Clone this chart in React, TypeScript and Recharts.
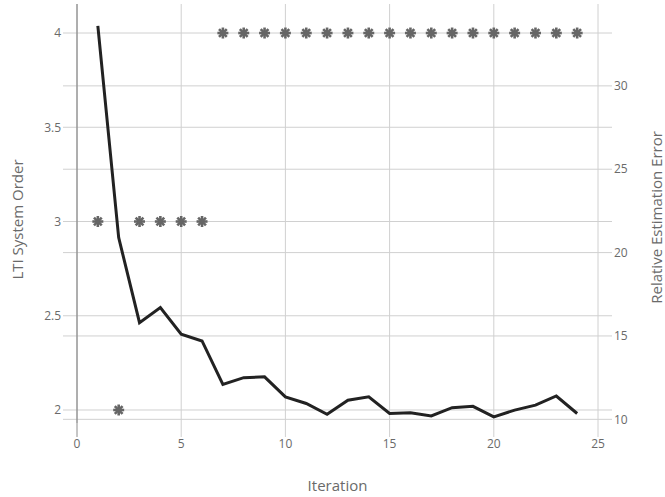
import {
  ComposedChart,
  Line,
  Scatter,
  XAxis,
  YAxis,
  CartesianGrid,
  ReferenceLine,
} from 'recharts'

const ITERATIONS = [1, 2, 3, 4, 5, 6, 7, 8, 9, 10, 11, 12, 13, 14, 15, 16, 17, 18, 19, 20, 21, 22, 23, 24]
const SYSTEM_ORDER = [3, 2, 3, 3, 3, 3, 4, 4, 4, 4, 4, 4, 4, 4, 4, 4, 4, 4, 4, 4, 4, 4, 4, 4]
const REL_ERROR = [
  33.6, 20.9, 15.8, 16.7, 15.1, 14.7, 12.1, 12.5, 12.55, 11.35, 10.95, 10.3,
  11.15, 11.35, 10.35, 10.4, 10.2, 10.7, 10.78, 10.15, 10.55, 10.85, 11.4, 10.35,
]

const X_TICKS = [0, 5, 10, 15, 20, 25]
const ORDER_TICKS = [2, 2.5, 3, 3.5, 4]
const ERROR_TICKS = [10, 15, 20, 25, 30]

const data = ITERATIONS.map((iter, i) => ({
  iter,
  order: SYSTEM_ORDER[i],
  error: REL_ERROR[i],
}))

const FONT = '"Open Sans", verdana, arial, sans-serif'
const GRID = '#d0d0d0'
const TEXT = '#6a6a6a'
const TITLE_SIZE = 15
// grid lines run 14px past the plot on both sides, like the tick marks
const GRID_X0 = -0.672
const GRID_X1 = 25.672

function Asterisk(props: any) {
  const { cx, cy } = props
  if (cx == null || cy == null) return null
  const r = 5.5
  const d = r * 0.7071
  return (
    <g stroke="#666" strokeWidth={2.6} strokeLinecap="butt">
      <line x1={cx - r} y1={cy} x2={cx + r} y2={cy} />
      <line x1={cx} y1={cy - r} x2={cx} y2={cy + r} />
      <line x1={cx - d} y1={cy - d} x2={cx + d} y2={cy + d} />
      <line x1={cx - d} y1={cy + d} x2={cx + d} y2={cy - d} />
    </g>
  )
}

function VTitle({ x, y, text }: { x: number; y: number; text: string }) {
  return (
    <text
      x={x}
      y={y}
      transform={`rotate(-90 ${x} ${y})`}
      textAnchor="middle"
      dominantBaseline="central"
      fontSize={TITLE_SIZE}
      fill={TEXT}
      fontFamily={FONT}
    >
      {text}
    </text>
  )
}

const tickStyle = { fontSize: 12, fill: TEXT, fontFamily: FONT }

export default function App() {
  return (
    <div style={{ position: 'absolute', left: 0, top: 0 }}>
      <ComposedChart
        width={665}
        height={497}
        data={data}
        margin={{ top: 4, right: 0, bottom: 0, left: 0 }}
      >
        <CartesianGrid horizontal={false} stroke={GRID} yAxisId="left" />
        {ORDER_TICKS.map((t) => (
          <ReferenceLine
            key={'o' + t}
            yAxisId="left"
            segment={[{ x: GRID_X0, y: t }, { x: GRID_X1, y: t }]}
            stroke={GRID}
            ifOverflow="visible"
          />
        ))}
        {ERROR_TICKS.map((t) => (
          <ReferenceLine
            key={'e' + t}
            yAxisId="right"
            segment={[{ x: GRID_X0, y: t }, { x: GRID_X1, y: t }]}
            stroke={GRID}
            ifOverflow="visible"
          />
        ))}
        <ReferenceLine
          yAxisId="left"
          segment={[{ x: 0, y: 1.857 }, { x: 0, y: 1.931 }]}
          stroke="#777"
          ifOverflow="visible"
        />
        <XAxis
          dataKey="iter"
          type="number"
          domain={[0, 25]}
          ticks={X_TICKS}
          allowDataOverflow
          height={74}
          axisLine={false}
          tickLine={{ stroke: GRID }}
          tickSize={14}
          tick={tickStyle}
          label={{
            content: ({ viewBox }: any) => (
              <text
                x={viewBox.x + viewBox.width / 2}
                y={viewBox.y + 62}
                textAnchor="middle"
                dominantBaseline="central"
                fontSize={TITLE_SIZE}
                fill={TEXT}
                fontFamily={FONT}
              >
                Iteration
              </text>
            ),
          }}
        />
        <YAxis
          yAxisId="left"
          orientation="left"
          type="number"
          domain={[1.931, 4.154]}
          ticks={ORDER_TICKS}
          allowDataOverflow
          width={77}
          axisLine={{ stroke: '#777' }}
          tickLine={false}
          tickSize={14}
          tick={tickStyle}
          label={{
            content: ({ viewBox }: any) => (
              <VTitle
                x={viewBox.x + 17}
                y={viewBox.y + viewBox.height / 2 + 6}
                text="LTI System Order"
              />
            ),
          }}
        />
        <YAxis
          yAxisId="right"
          orientation="right"
          type="number"
          domain={[9.78, 34.91]}
          ticks={ERROR_TICKS}
          allowDataOverflow
          width={67}
          axisLine={false}
          tickLine={false}
          tickSize={14}
          tick={tickStyle}
          label={{
            content: ({ viewBox }: any) => (
              <VTitle
                x={viewBox.x + 58}
                y={viewBox.y + viewBox.height / 2 + 4}
                text="Relative Estimation Error"
              />
            ),
          }}
        />
        <Line
          yAxisId="right"
          dataKey="error"
          type="linear"
          stroke="#222"
          strokeWidth={3}
          dot={false}
          activeDot={false}
          isAnimationActive={false}
        />
        <Scatter
          yAxisId="left"
          dataKey="order"
          shape={Asterisk}
          isAnimationActive={false}
        />
      </ComposedChart>
    </div>
  )
}
